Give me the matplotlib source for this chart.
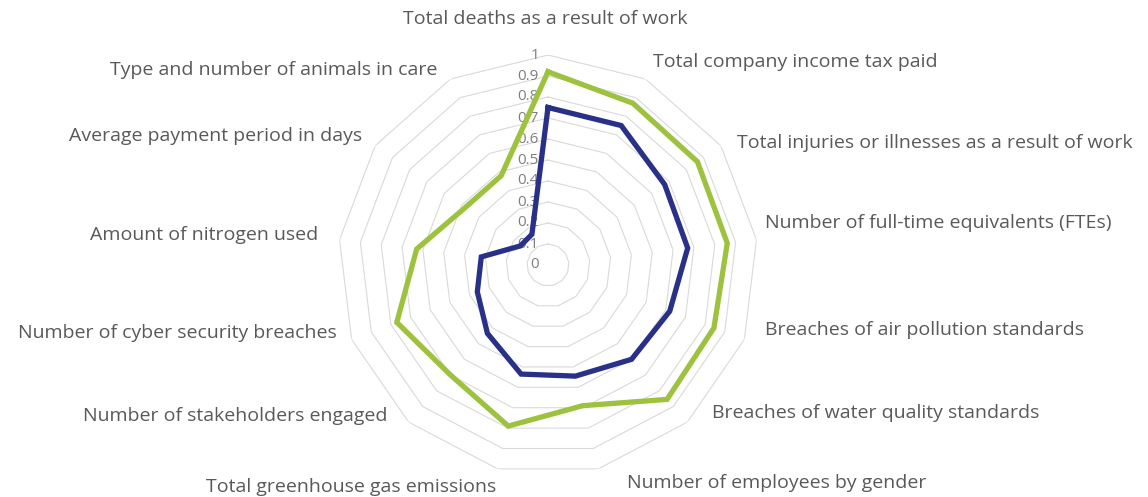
import numpy as np
import matplotlib
matplotlib.use('Agg')
import matplotlib.pyplot as plt

# ===================== DATA =====================
categories = [
    'Total deaths as a result of work',
    'Total company income tax paid',
    'Total injuries or illnesses as a result of work',
    'Number of full-time equivalents (FTEs)',
    'Breaches of air pollution standards',
    'Breaches of water quality standards',
    'Number of employees by gender',
    'Total greenhouse gas emissions',
    'Number of stakeholders engaged',
    'Number of cyber security breaches',
    'Amount of nitrogen used',
    'Average payment period in days',
    'Type and number of animals in care',
]
green_values = [0.92, 0.87, 0.865, 0.86, 0.845, 0.855, 0.69, 0.79, 0.70, 0.77, 0.63, 0.48, 0.48]
blue_values = [0.75, 0.75, 0.675, 0.67, 0.62, 0.60, 0.545, 0.535, 0.435, 0.36, 0.32, 0.16, 0.165]
tick_values = [0, 0.1, 0.2, 0.3, 0.4, 0.5, 0.6, 0.7, 0.8, 0.9, 1]
tick_labels = ['0', '0.1', '0.2', '0.3', '0.4', '0.5', '0.6', '0.7', '0.8', '0.9', '1']

# ===================== STYLE =====================
plt.rcParams['font.family'] = ['Open Sans', 'DejaVu Sans']
TEXT_COLOR = '#595959'
GRID_COLOR = '#d9d9d9'
GREEN = '#9dc23f'
BLUE = '#283088'

# label offsets (pixels, from the outer ring vertex) - mimics Excel placement
LABEL_OFFSETS = [(-3, 36), (7, 17), (16, 3), (9, 17), (21, 9), (25, 9), (29, -14),
                 (-1, -18), (-21, 6), (-15, 6), (-21, 5), (-13, 10), (-13, 9)]

n = len(categories)
angles = np.arange(n) * 2 * np.pi / n
closed = np.append(angles, angles[0])

fig = plt.figure(figsize=(11.48, 4.97), dpi=100)
cx, cy, rad = 548, 265, 210
ax = fig.add_axes([(cx - rad) / 1148, (497 - cy - rad) / 497, 2 * rad / 1148, 2 * rad / 497],
                  projection='polar')
ax.set_theta_offset(np.pi / 2)
ax.set_theta_direction(-1)
ax.set_ylim(0, 1)
ax.grid(False)
ax.spines['polar'].set_visible(False)
ax.set_xticks([])
ax.set_yticks([])
ax.patch.set_alpha(0)

# polygon grid rings
for level in tick_values[1:]:
    ax.plot(closed, [level] * (n + 1), color=GRID_COLOR, lw=0.8, zorder=1)

# value labels along the top axis
for v, lab in zip(tick_values, tick_labels):
    ax.annotate(lab, xy=(0, v), xytext=(-9, 0), textcoords='offset pixels',
                ha='right', va='center', fontsize=11, color='#7f7f7f', zorder=2)

# series
ax.plot(closed, np.append(green_values, green_values[0]), color=GREEN, lw=3.8,
        solid_joinstyle='miter', zorder=3)
ax.plot(closed, np.append(blue_values, blue_values[0]), color=BLUE, lw=3.8,
        solid_joinstyle='miter', zorder=4)

# category labels
for ang, lab, off in zip(angles, categories, LABEL_OFFSETS):
    s = np.sin(ang)
    if abs(s) < 1e-6:
        ha = 'center'
    else:
        ha = 'left' if s > 0 else 'right'
    ax.annotate(lab, xy=(ang, 1), xytext=off, textcoords='offset pixels',
                ha=ha, va='center', fontsize=14, color=TEXT_COLOR,
                annotation_clip=False)

fig.savefig('out.png', dpi=100)
